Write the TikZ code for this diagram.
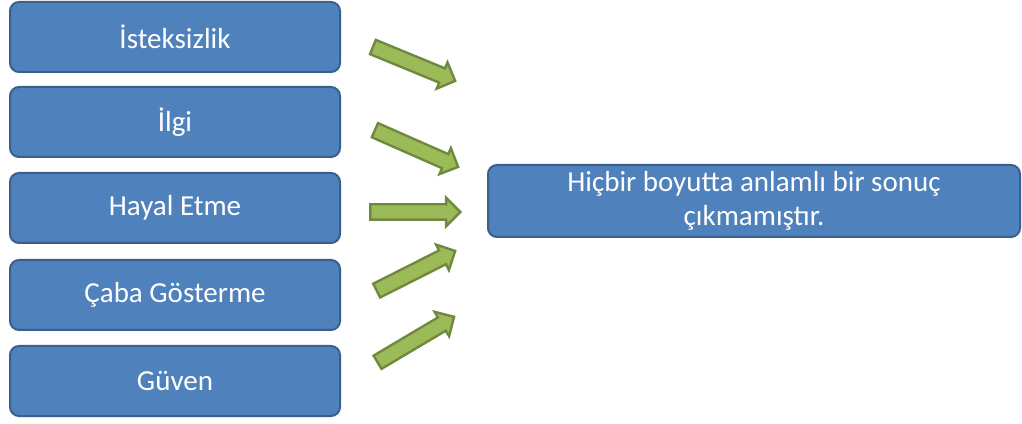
\documentclass[tikz,border=0pt]{standalone}
\usepackage{fontspec}
\setmainfont{Carlito}
\usetikzlibrary{shapes.arrows}
\definecolor{boxfill}{HTML}{4F81BD}
\definecolor{boxline}{HTML}{3A5F8B}
\definecolor{arrfill}{HTML}{9BBB59}
\definecolor{arrline}{HTML}{71893F}
\begin{document}
\begin{tikzpicture}[x=1pt,y=1pt,
  item/.style={draw=boxline, line width=2pt, fill=boxfill, rounded corners=9pt,
    text=white, font=\fontsize{29}{34}\selectfont, align=flush center, inner sep=0pt},
  leftbox/.style={item, minimum width=330pt, minimum height=70pt},
  blockarrow/.style={single arrow, draw=arrline, line width=2.4pt, fill=arrfill,
    inner sep=6.5pt, single arrow head extend=6.5pt, single arrow head indent=0pt}]
  \useasboundingbox (0,0) rectangle (1022,423);
  % factor boxes on the left
  \node[leftbox] (b1) at (175,386) {İsteksizlik};
  \node[leftbox] (b2) at (175,301) {İlgi};
  \node[leftbox] (b3) at (175,215) {Hayal Etme};
  \node[leftbox] (b4) at (175,128) {Çaba Gösterme};
  \node[leftbox] (b5) at (175,42) {Güven};
  % result box on the right
  \node[item, minimum width=532pt, minimum height=72pt, text width=520pt] (res) at (754,222)
    {Hiçbir boyutta anlamlı bir sonuç\\çıkmamıştır.};
  % block arrows pointing towards the result
  \node[blockarrow, minimum height=89pt, rotate=-22.4] (a1) at (410.5,360.5) {};
  \node[blockarrow, minimum height=91pt, rotate=-23.8] (a2) at (413,276) {};
  \node[blockarrow, minimum height=90pt] (a3) at (411.5,211) {};
  \node[blockarrow, minimum height=88pt, rotate=26.8] (a4) at (412.5,150.5) {};
  \node[blockarrow, minimum height=89pt, rotate=30.7] (a5) at (412.5,81.5) {};
\end{tikzpicture}
\end{document}
